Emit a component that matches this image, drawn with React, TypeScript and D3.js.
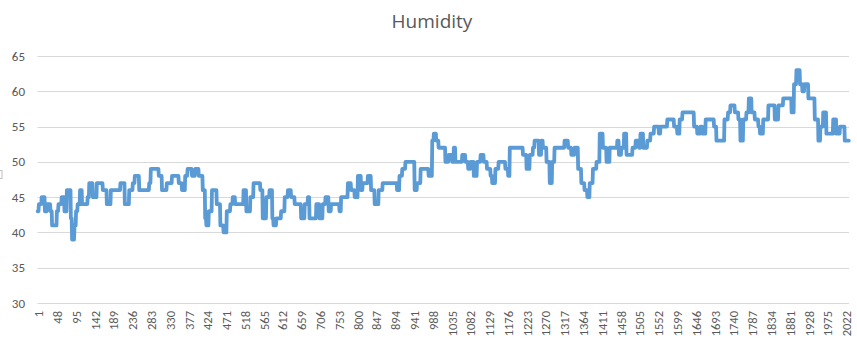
import { useMemo } from 'react';
import * as d3 from 'd3';

// humidity readings as [value, how many consecutive samples] runs
const runsPart1 = [
  [43, 3], [44, 7], [45, 8], [43, 6], [44, 8], [43, 4], [41, 12], [43, 4], [44, 8], [45, 7],
  [43, 6], [46, 10], [42, 3], [39, 6], [41, 4], [43, 4], [44, 6], [46, 5], [44, 14], [45, 4],
  [47, 9], [45, 10], [47, 15], [46, 10], [44, 10], [46, 24], [47, 11], [44, 11], [46, 9], [47, 5],
  [48, 11], [46, 25], [47, 4], [49, 7],
];
const runsPart2 = [
  [49, 13], [48, 8], [46, 12], [47, 13], [48, 17], [47, 8], [46, 8], [48, 6], [49, 11], [48, 8],
  [49, 9], [48, 10], [46, 6], [42, 3], [41, 6], [43, 8], [46, 12], [44, 9], [41, 8], [40, 8],
  [43, 9], [44, 6], [45, 6], [44, 21], [46, 7], [43, 10], [45, 8], [47, 17], [46, 6], [42, 9],
  [45, 8],
];
const runsPart3 = [
  [46, 7], [42, 3], [41, 7], [42, 12], [43, 9], [45, 8], [46, 8], [45, 9], [44, 16], [42, 9],
  [44, 8], [45, 4], [42, 17], [44, 8], [42, 8], [44, 7], [45, 8], [43, 6], [44, 21], [43, 4],
  [45, 17], [47, 8], [46, 9], [45, 8], [48, 8], [46, 4], [47, 13], [48, 8], [46, 9], [44, 10],
  [46, 10], [47, 7],
];
const runsPart4 = [
  [47, 29], [46, 6], [48, 7], [49, 8], [50, 23], [46, 6], [47, 9], [49, 20], [48, 9], [53, 4],
  [54, 6], [53, 6], [52, 17], [50, 8], [51, 9], [50, 4], [52, 4], [50, 17], [51, 8], [50, 7],
  [49, 6], [50, 8], [48, 8], [50, 9], [51, 8], [50, 8], [49, 9], [48, 4], [47, 8], [49, 8],
  [50, 7],
];
const runsPart5 = [
  [50, 10], [49, 7], [48, 4], [52, 33], [51, 9], [49, 8], [51, 8], [52, 4], [53, 11], [51, 6],
  [53, 4], [52, 9], [50, 8], [47, 6], [50, 6], [52, 25], [53, 9], [52, 8], [51, 8], [52, 9],
  [49, 8], [47, 8], [46, 7], [45, 6], [47, 8], [49, 9], [50, 8], [54, 8], [52, 9], [50, 8],
  [52, 19],
];
const runsPart6 = [
  [53, 4], [51, 6], [52, 7], [54, 6], [51, 15], [52, 8], [53, 8], [52, 4], [54, 7], [52, 10],
  [53, 8], [54, 9], [55, 12], [54, 4], [55, 17], [56, 17], [55, 8], [54, 6], [56, 7], [57, 29],
  [55, 8], [54, 8], [55, 5], [54, 8], [56, 21], [55, 6], [53, 20], [56, 9], [57, 6], [58, 7],
];
const runsPart7 = [
  [58, 4], [57, 9], [56, 5], [53, 7], [56, 8], [57, 6], [59, 7], [57, 8], [56, 9], [55, 4],
  [54, 8], [56, 13], [58, 16], [56, 9], [58, 12], [59, 21], [57, 6], [61, 6], [63, 9], [61, 6],
  [60, 5], [61, 10], [59, 16], [56, 9], [53, 5], [55, 7], [57, 8], [54, 17], [56, 8], [54, 9],
  [55, 12], [53, 11],
];

const yTicks = [30, 35, 40, 45, 50, 55, 60, 65];
const labelEvery = 47;
const title = 'Humidity';

const W = 857;
const H = 351;
const margin = { top: 56, right: 8, bottom: 48, left: 37.5 };
const font = 'Carlito, Calibri, Lato, sans-serif';

const App = () => {
  const values = useMemo(() => {
    const all = [...runsPart1, ...runsPart2, ...runsPart3, ...runsPart4, ...runsPart5, ...runsPart6, ...runsPart7];
    const out: number[] = [];
    all.forEach(([v, n]) => {
      for (let k = 0; k < n; k++) out.push(v);
    });
    return out;
  }, []);

  const n = values.length;
  const x = d3.scaleBand<number>()
    .domain(d3.range(1, n + 1))
    .range([margin.left, W - margin.right])
    .padding(0);
  const cx = (i: number) => (x(i) ?? 0) + x.bandwidth() / 2;
  const y = d3.scaleLinear().domain([30, 65]).range([H - margin.bottom, margin.top]);

  const line = d3.line<number>()
    .x((_, i) => cx(i + 1))
    .y(d => y(d));

  const xLabels = d3.range(1, n + 1, labelEvery);

  return (
    <svg width={W} height={H} style={{ position: 'absolute', left: 0, top: 0, background: '#fff' }}>
      <rect x={0} y={0} width={W} height={H} fill="#fff" />
      <text x={432} y={28} textAnchor="middle" fontFamily="'Open Sans', sans-serif" fontSize={19} fill="#595959">
        {title}
      </text>

      {/* gridlines */}
      {yTicks.map(t => (
        <line key={t} x1={margin.left} x2={W - margin.right} y1={Math.round(y(t)) + 0.5} y2={Math.round(y(t)) + 0.5}
          stroke="#d9d9d9" strokeWidth={1} />
      ))}

      {/* y tick labels */}
      {yTicks.map(t => (
        <text key={t} x={25} y={y(t)} textAnchor="end" dominantBaseline="central"
          fontFamily={font} fontSize={13} fill="#595959">
          {t}
        </text>
      ))}

      {/* stub of a clipped axis title box */}
      <rect x={-6} y={170.5} width={8} height={8} fill="none" stroke="#bfbfbf" />

      <path d={line(values) ?? ''} fill="none" stroke="#5b9bd5" strokeWidth={3.8}
        strokeLinejoin="round" strokeLinecap="round" />

      {/* x tick labels, rotated */}
      {xLabels.map(i => (
        <text key={i} transform={`translate(${cx(i) + 1},${H - margin.bottom + 8}) rotate(-90)`}
          textAnchor="end" dominantBaseline="central" fontFamily={font} fontSize={12.5} fill="#595959">
          {i}
        </text>
      ))}
    </svg>
  );
};

export default App;
